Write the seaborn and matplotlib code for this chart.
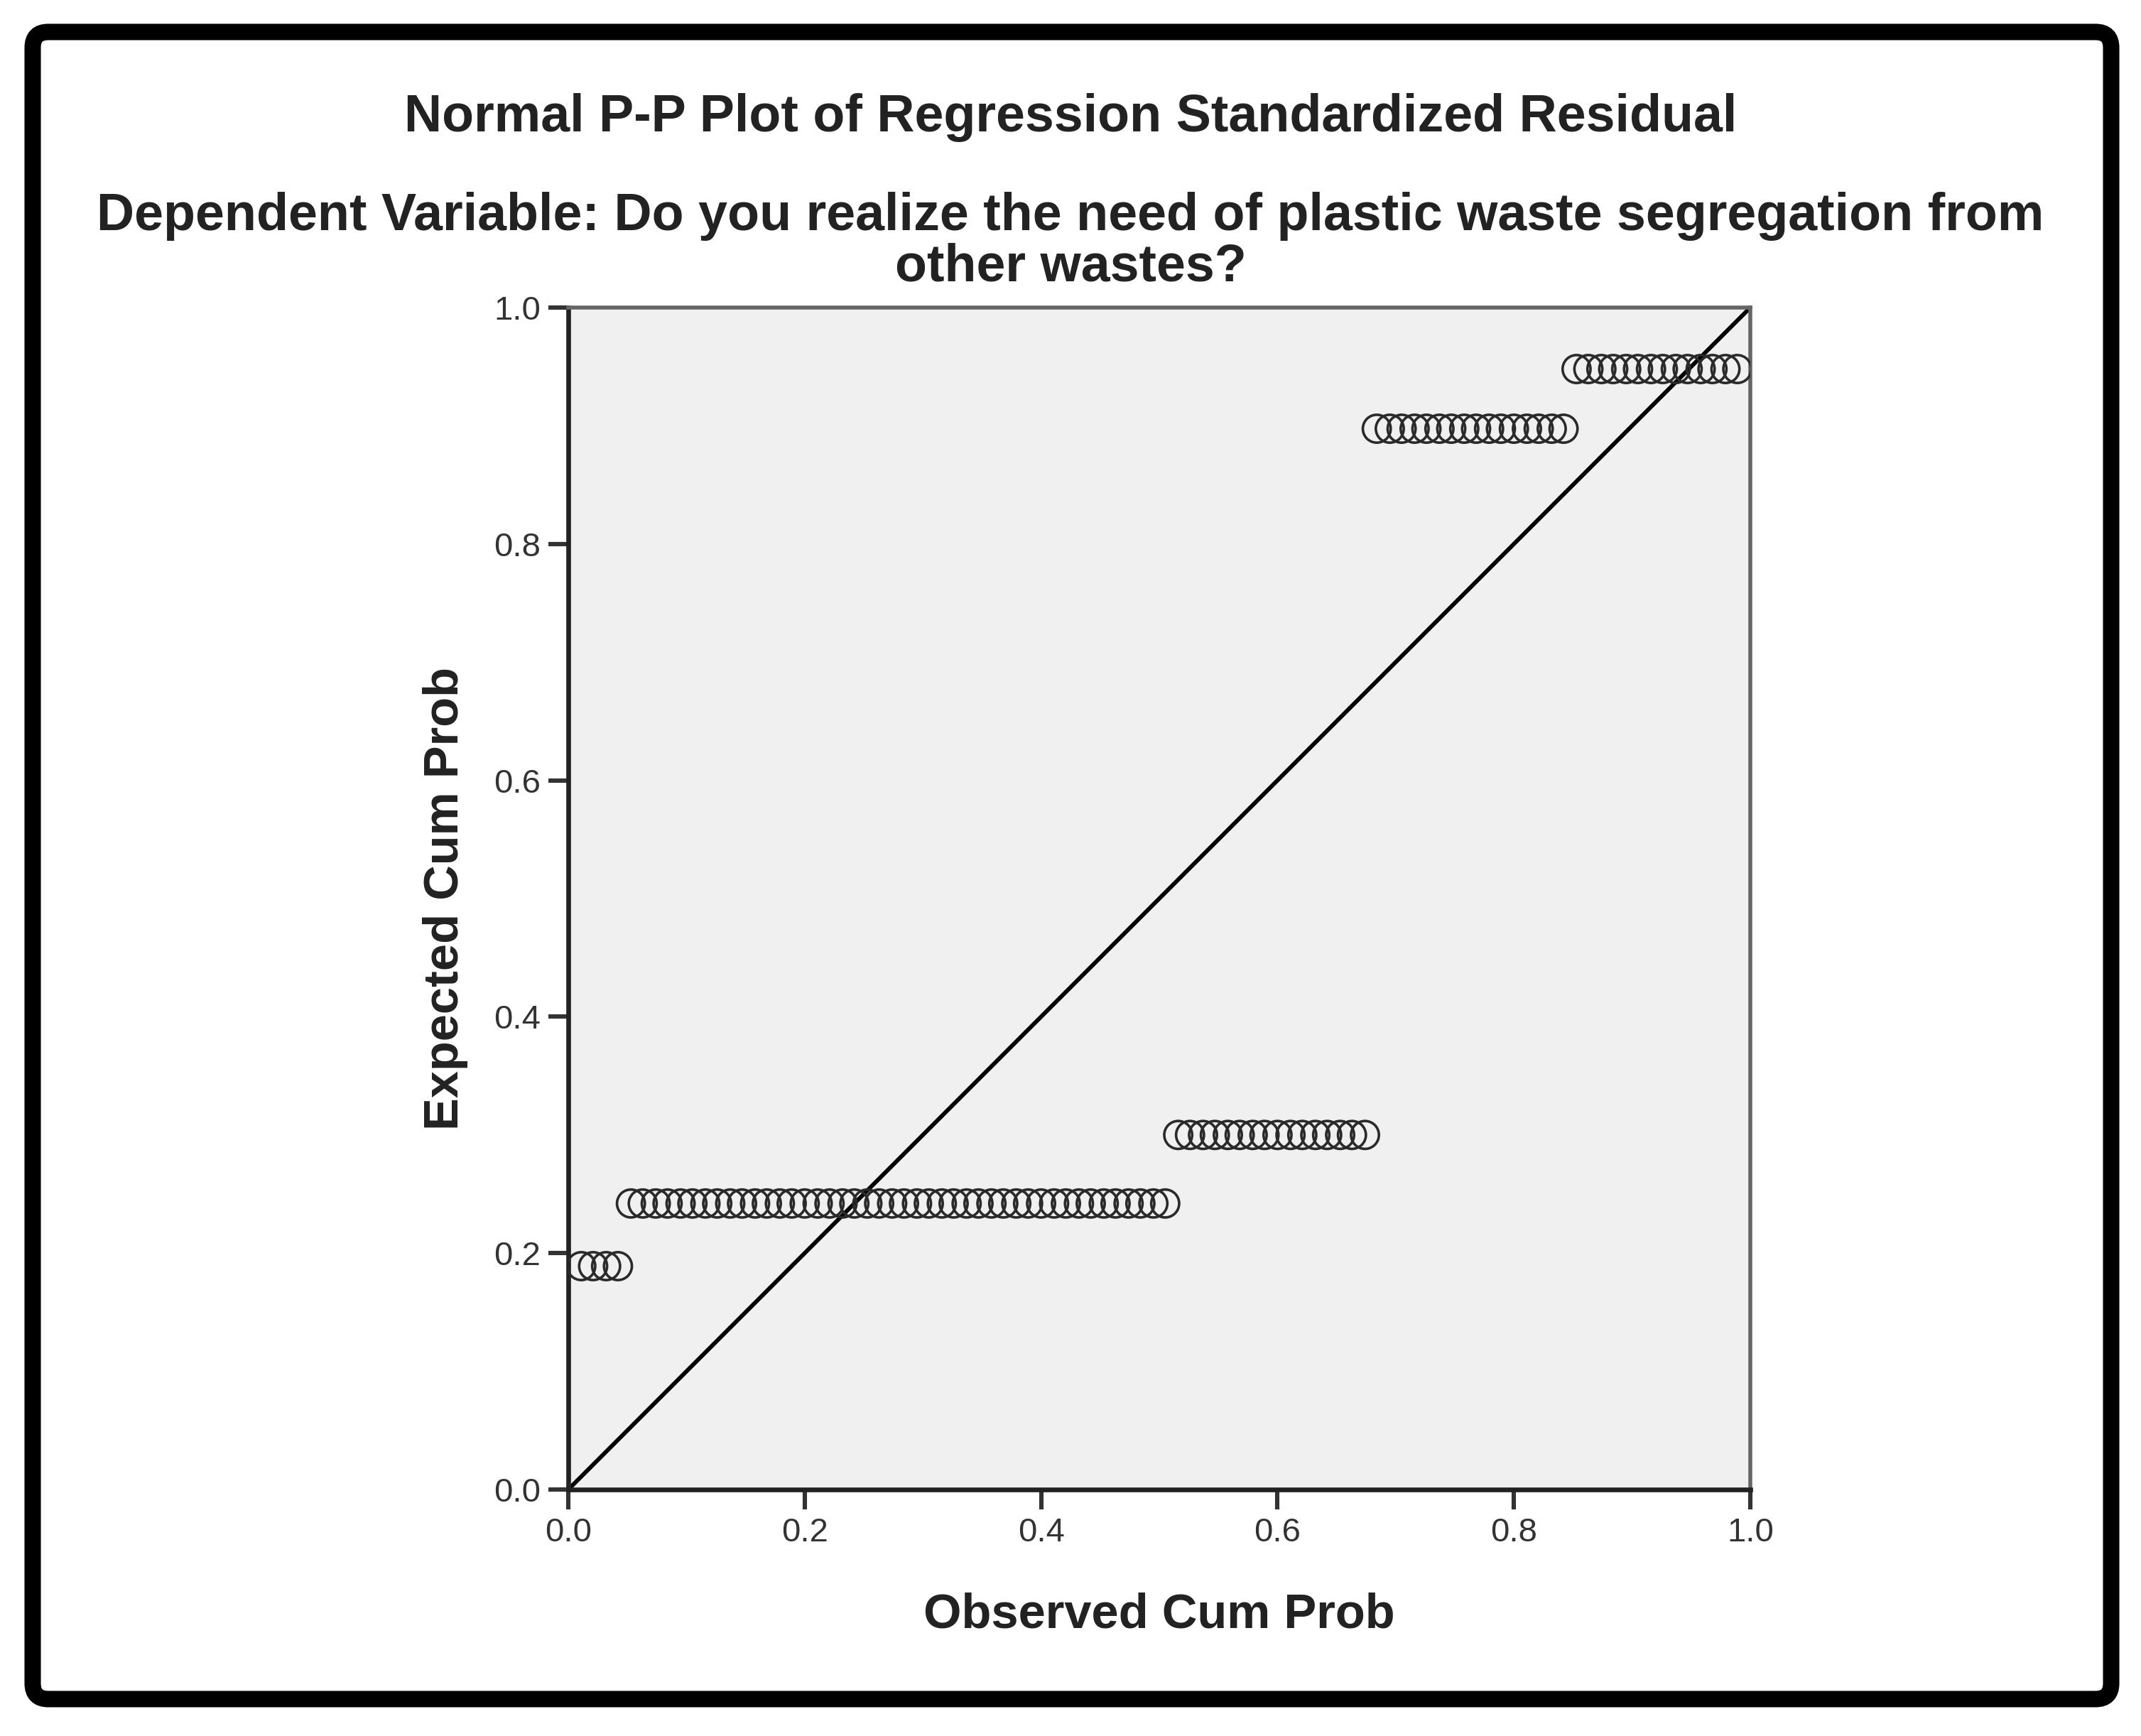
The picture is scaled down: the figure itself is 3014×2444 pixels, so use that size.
import matplotlib
matplotlib.use("Agg")
import matplotlib.pyplot as plt
import pandas as pd
import seaborn as sns
from matplotlib.patches import FancyBboxPatch
from matplotlib.transforms import IdentityTransform

# Observed cumulative probabilities (ranked residuals), one list per level
obs_g1 = [0.011, 0.021, 0.032, 0.042]
obs_g2 = [0.053, 0.063, 0.074, 0.084, 0.095, 0.105, 0.116, 0.126, 0.137, 0.147,
          0.158, 0.168, 0.179, 0.189, 0.200, 0.211, 0.221, 0.232, 0.242, 0.253,
          0.263, 0.274, 0.284, 0.295, 0.305, 0.316, 0.326, 0.337, 0.347, 0.358,
          0.368, 0.379, 0.389, 0.400, 0.411, 0.421, 0.432, 0.442, 0.453, 0.463,
          0.474, 0.484, 0.495, 0.505]
obs_g3 = [0.516, 0.526, 0.537, 0.547, 0.558, 0.568, 0.579, 0.589, 0.600, 0.611,
          0.621, 0.632, 0.642, 0.653, 0.663, 0.674]
obs_g4 = [0.684, 0.695, 0.705, 0.716, 0.726, 0.737, 0.747, 0.758, 0.768, 0.779,
          0.789, 0.800, 0.811, 0.821, 0.832, 0.842]
obs_g5 = [0.853, 0.863, 0.874, 0.884, 0.895, 0.905, 0.916, 0.926, 0.937, 0.947,
          0.958, 0.968, 0.979, 0.989]

# Expected cumulative probability of each level
expected_levels = [0.189, 0.242, 0.300, 0.8975, 0.948]

ticks = [0.0, 0.2, 0.4, 0.6, 0.8, 1.0]
tick_labels = ["0.0", "0.2", "0.4", "0.6", "0.8", "1.0"]

title = "Normal P-P Plot of Regression Standardized Residual"
subtitle = "Dependent Variable: Do you realize the need of plastic waste segregation from\nother wastes?"

groups = [obs_g1, obs_g2, obs_g3, obs_g4, obs_g5]
rows = []
for obs, exp in zip(groups, expected_levels):
    for o in obs:
        rows.append({"observed": o, "expected": exp})
df = pd.DataFrame(rows)

sns.set_style("white")
plt.rcParams["font.family"] = ["Liberation Sans", "DejaVu Sans"]

DPI = 200
fig = plt.figure(figsize=(3014 / DPI, 2444 / DPI), dpi=DPI)
fig.patch.set_facecolor("white")

ax = fig.add_axes([800 / 3014, 347 / 2444, 1664 / 3014, 1664 / 2444])
ax.set_facecolor("#f0f0f0")

sns.scatterplot(data=df, x="observed", y="expected", ax=ax,
                marker="o", s=200, facecolor="none", edgecolor="#2a2a2a",
                linewidth=1.3, zorder=3)
ax.axline((0, 0), slope=1, color="black", linewidth=2.1, zorder=2)

ax.set_xlim(0, 1)
ax.set_ylim(0, 1)
ax.set_xticks(ticks)
ax.set_xticklabels(tick_labels)
ax.set_yticks(ticks)
ax.set_yticklabels(tick_labels)
ax.tick_params(axis="both", direction="out", length=10, width=2.2,
               color="#333333", labelsize=17, labelcolor="#333333", pad=4,
               left=True, bottom=True)

for side in ["left", "bottom"]:
    ax.spines[side].set_color("#222222")
    ax.spines[side].set_linewidth(2.4)
for side in ["top", "right"]:
    ax.spines[side].set_color("#666666")
    ax.spines[side].set_linewidth(2.0)

ax.set_xlabel("Observed Cum Prob", fontsize=24.7, fontweight="bold",
              color="#222222", labelpad=22)
ax.set_ylabel("Expected Cum Prob", fontsize=24.7, fontweight="bold",
              color="#222222", labelpad=13)

fig.text(0.5, 1 - 166 / 2444, title, ha="center", va="center",
         fontsize=26.5, fontweight="bold", color="#222222")
fig.text(0.5, 1 - 340 / 2444, subtitle, ha="center", va="center",
         fontsize=26.5, fontweight="bold", color="#222222", linespacing=1.05)

# Outer rounded frame
frame = FancyBboxPatch((46, 52), 2972 - 46, 2399 - 52,
                       boxstyle="round,pad=0,rounding_size=22",
                       transform=IdentityTransform(), facecolor="none",
                       edgecolor="black", linewidth=8.3)
fig.patches.append(frame)

fig.savefig("out.png", dpi=DPI, facecolor="white")
